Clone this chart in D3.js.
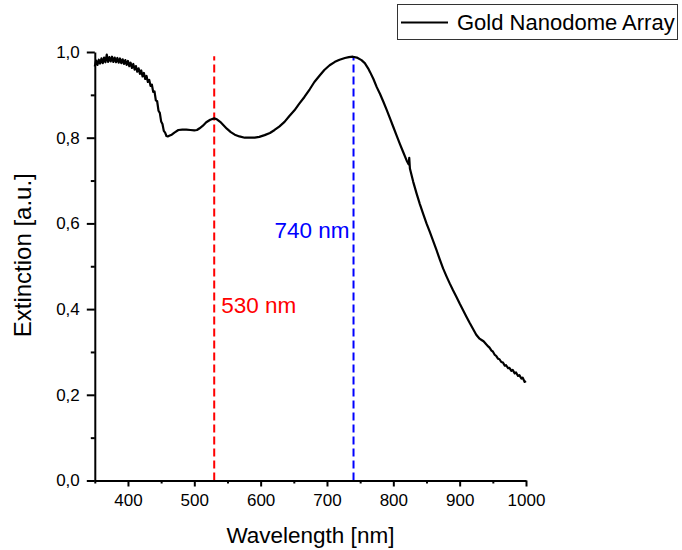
<!DOCTYPE html>
<html>
<head>
<meta charset="utf-8">
<script src="https://cdn.jsdelivr.net/npm/d3@7"></script>
<style>
  html, body { margin: 0; padding: 0; background: #fff; }
  svg { display: block; font-family: "Liberation Sans", Arial, sans-serif; }
</style>
</head>
<body>
<svg id="chart" width="682" height="550"></svg>
<script>
// Extinction spectrum of the gold nanodome array
const wavelength = [
  350, 352, 354, 356, 358, 360, 362, 364, 366, 368, 370, 372, 374, 376, 378, 380,
  382, 384, 386, 388, 390, 392, 394, 396, 398, 400, 402, 404, 406, 408, 410, 412,
  414, 416, 418, 420, 422, 424, 426, 428, 430, 432, 434, 436, 438, 440, 442, 444,
  446, 448, 450, 452, 454, 456, 458, 460, 463, 466, 470, 476, 482, 488, 494, 500,
  504, 508, 513, 518, 524, 530, 534, 539, 544, 549, 555, 561, 568, 576, 584, 591,
  598, 606, 614, 621, 628, 636, 643, 651, 658, 666, 674, 681, 689, 696, 704, 712,
  719, 727, 733, 739, 745, 752, 757, 762, 765, 770, 775, 780, 785, 790, 795, 800,
  805, 810, 815, 820, 823, 824, 825, 830, 835, 840, 845, 850, 855, 860, 865, 870,
  875, 880, 885, 890, 895, 900, 905, 910, 915, 920, 925, 930, 933, 936, 940, 943,
  945, 948, 950, 953, 955, 958, 960, 963, 965, 968, 970, 973, 975, 978, 980, 983,
  985, 988, 990, 993, 995, 998, 1000
];
const extinction = [
  0.966, 0.980, 0.970, 0.982, 0.973, 0.985, 0.974, 0.987, 0.976, 0.994, 0.977, 0.988, 0.978, 0.989, 0.977, 0.987,
  0.976, 0.986, 0.975, 0.985, 0.974, 0.983, 0.972, 0.981, 0.970, 0.979, 0.967, 0.975, 0.963, 0.972, 0.959, 0.967,
  0.954, 0.962, 0.949, 0.957, 0.943, 0.951, 0.937, 0.944, 0.930, 0.935, 0.921, 0.924, 0.907, 0.908, 0.887, 0.885,
  0.863, 0.858, 0.838, 0.832, 0.816, 0.812, 0.804, 0.803, 0.805, 0.807, 0.812, 0.818, 0.819, 0.819, 0.818, 0.817,
  0.818, 0.822, 0.828, 0.836, 0.842, 0.845, 0.843, 0.837, 0.829, 0.821, 0.813, 0.807, 0.803, 0.800, 0.800, 0.800,
  0.802, 0.806, 0.811, 0.818, 0.826, 0.837, 0.850, 0.864, 0.879, 0.895, 0.913, 0.930, 0.945, 0.958, 0.969, 0.977,
  0.982, 0.986, 0.988, 0.989, 0.987, 0.981, 0.974, 0.962, 0.953, 0.937, 0.918, 0.902, 0.884, 0.865, 0.845, 0.825,
  0.805, 0.785, 0.766, 0.747, 0.738, 0.753, 0.728, 0.697, 0.670, 0.645, 0.622, 0.600, 0.580, 0.559, 0.538, 0.516,
  0.495, 0.477, 0.460, 0.444, 0.429, 0.413, 0.398, 0.383, 0.368, 0.354, 0.340, 0.331, 0.328, 0.325, 0.318, 0.313,
  0.310, 0.303, 0.301, 0.293, 0.291, 0.284, 0.283, 0.276, 0.276, 0.268, 0.269, 0.262, 0.263, 0.256, 0.258, 0.250,
  0.252, 0.244, 0.246, 0.238, 0.240, 0.230, 0.232
];

// Resonance markers
const markerWavelengths = [530, 740];
const markerLabels = ["530 nm", "740 nm"];
const markerColors = ["#ff0000", "#0000ff"];

// Axis ticks
const xMajorTicks = [400, 500, 600, 700, 800, 900, 1000];
const xMinorTicks = [350, 450, 550, 650, 750, 850, 950];
const yMajorTicks = [0, 0.2, 0.4, 0.6, 0.8, 1.0];
const yMinorTicks = [0.1, 0.3, 0.5, 0.7, 0.9];

const seriesName = "Gold Nanodome Array";
const xTitle = "Wavelength [nm]";
const yTitle = "Extinction [a.u.]";

const svg = d3.select("#chart");

const x = d3.scaleLinear().domain([350, 1000]).range([94.8, 526]);
const y = d3.scaleLinear().domain([0, 1.0]).range([480.5, 52]);

const commaFmt = d3.formatLocale({ decimal: ",", thousands: ".", grouping: [3], currency: ["", ""] }).format(".1f");

// Marker lines (drawn beneath the spectrum)
const markers = svg.append("g");
markerWavelengths.forEach((w, i) => {
  markers.append("line")
    .attr("x1", x(w)).attr("x2", x(w))
    .attr("y1", y(0)).attr("y2", y(0.99))
    .attr("stroke", markerColors[i])
    .attr("stroke-width", 2)
    .attr("stroke-dasharray", "8,4");
});
svg.append("text")
  .attr("x", x(markerWavelengths[0]) + 7)
  .attr("y", y(0.392))
  .attr("fill", markerColors[0])
  .attr("font-size", 22.5)
  .text(markerLabels[0]);
svg.append("text")
  .attr("x", x(markerWavelengths[1]) - 4)
  .attr("y", y(0.567))
  .attr("text-anchor", "end")
  .attr("fill", markerColors[1])
  .attr("font-size", 22.5)
  .text(markerLabels[1]);

// Spectrum
const pts = wavelength.map((w, i) => [w, extinction[i]]);
svg.append("path")
  .datum(pts)
  .attr("fill", "none")
  .attr("stroke", "#000")
  .attr("stroke-width", 2.2)
  .attr("stroke-linejoin", "round")
  .attr("d", d3.line().x(d => x(d[0])).y(d => y(d[1])));

// Axes
function styleAxis(g) {
  g.selectAll("path.domain").attr("stroke", "#000").attr("stroke-width", 2);
  g.selectAll(".tick line").attr("stroke", "#000").attr("stroke-width", 2);
  g.selectAll(".tick text").attr("font-size", 17).attr("fill", "#000")
    .attr("font-family", "Liberation Sans, Arial, sans-serif");
}

const xAxisG = svg.append("g").attr("transform", `translate(0,${y(0)})`)
  .call(d3.axisBottom(x).tickValues(xMajorTicks).tickSize(6).tickSizeOuter(0).tickPadding(7).tickFormat(d3.format("d")));
styleAxis(xAxisG);
const xMinorG = svg.append("g").attr("transform", `translate(0,${y(0)})`)
  .call(d3.axisBottom(x).tickValues(xMinorTicks).tickSize(3).tickSizeOuter(0).tickFormat(""));
styleAxis(xMinorG);
xMinorG.select("path.domain").remove();

const yAxisG = svg.append("g").attr("transform", `translate(${x(350)},0)`)
  .call(d3.axisLeft(y).tickValues(yMajorTicks).tickSize(8).tickSizeOuter(0).tickPadding(7).tickFormat(commaFmt));
styleAxis(yAxisG);
const yMinorG = svg.append("g").attr("transform", `translate(${x(350)},0)`)
  .call(d3.axisLeft(y).tickValues(yMinorTicks).tickSize(4).tickSizeOuter(0).tickFormat(""));
styleAxis(yMinorG);
yMinorG.select("path.domain").remove();

// Axis titles
svg.append("text")
  .attr("x", (x(350) + x(1000)) / 2)
  .attr("y", 543)
  .attr("text-anchor", "middle")
  .attr("font-size", 22.5)
  .text(xTitle);
svg.append("text")
  .attr("transform", `translate(31,${(y(0) + y(1)) / 2 - 11}) rotate(-90)`)
  .attr("text-anchor", "middle")
  .attr("font-size", 24)
  .text(yTitle);

// Legend
const legend = svg.append("g");
legend.append("rect")
  .attr("x", 397.5).attr("y", 4.5).attr("width", 280).attr("height", 35)
  .attr("fill", "#fff").attr("stroke", "#333").attr("stroke-width", 1);
legend.append("line")
  .attr("x1", 401).attr("x2", 448).attr("y1", 22.5).attr("y2", 22.5)
  .attr("stroke", "#000").attr("stroke-width", 2);
legend.append("text")
  .attr("x", 457).attr("y", 30)
  .attr("font-size", 22)
  .text(seriesName);
</script>
</body>
</html>
